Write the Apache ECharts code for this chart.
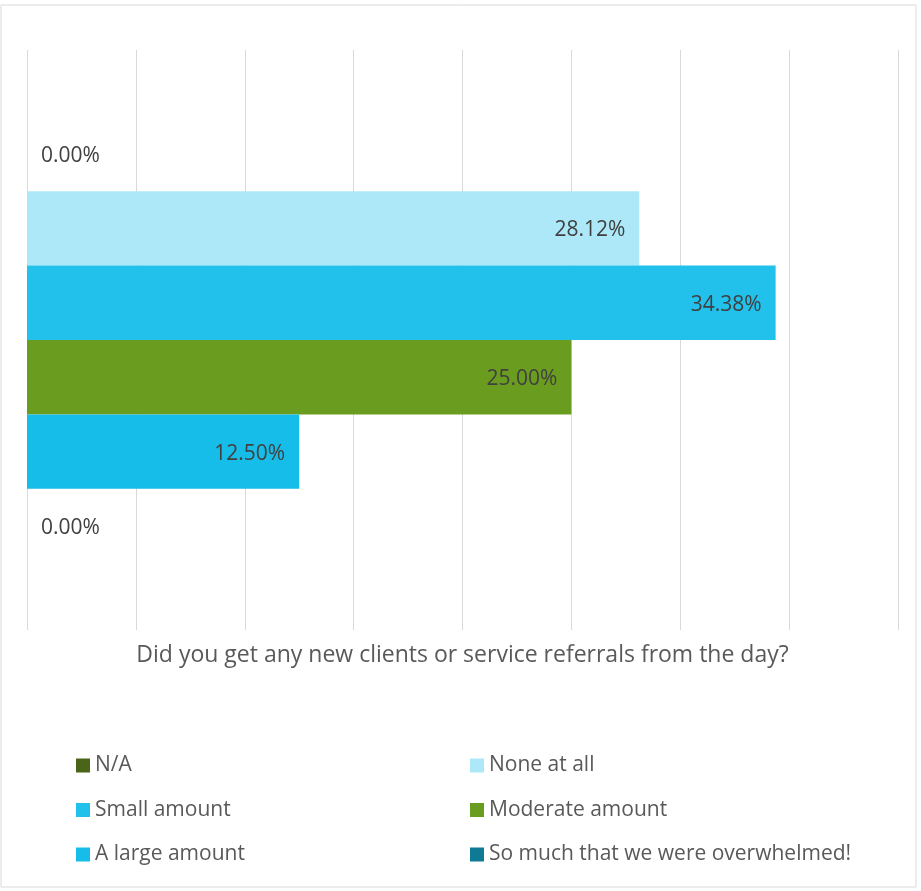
<!DOCTYPE html>
<html>
<head>
<meta charset="utf-8">
<script src="https://cdn.jsdelivr.net/npm/echarts@6/dist/echarts.min.js"></script>
<style>
  html, body { margin: 0; padding: 0; background: #fff; }
  #chart { width: 921px; height: 891px; }
</style>
</head>
<body>
<div id="chart"></div>
<script>
// 数据
const categories = ['Did you get any new clients or service referrals from the day?'];
const seriesNames = ['N/A', 'None at all', 'Small amount', 'Moderate amount', 'A large amount', 'So much that we were overwhelmed!'];
const seriesValues = [0, 28.12, 34.38, 25.00, 12.50, 0];
const seriesColors = ['#4A6418', '#ACE8F7', '#21C1EB', '#6A9D1F', '#16BDE8', '#0E7A96'];
const xTicks = [0, 5, 10, 15, 20, 25, 30, 35, 40];

const font = 'Open Sans';

const series = seriesNames.map((name, i) => {
  return {
    name: name,
    type: 'bar',
    data: [seriesValues[i]],
    barGap: '0%',
    barCategoryGap: '23%',
    itemStyle: { color: seriesColors[i] },
    label: {
      show: true,
      position: seriesValues[i] === 0 ? 'right' : 'insideRight',
      distance: 14,
      color: '#404040',
      fontFamily: font,
      fontSize: 21,
      offset: [0, 2],
      formatter: p => p.value.toFixed(2) + '%'
    }
  };
});

const legendText = { color: '#595959', fontFamily: font, fontSize: 21 };

const option = {
  animation: false,
  backgroundColor: '#fff',
  grid: { left: 27, right: 23, top: 50, bottom: 261 },
  xAxis: {
    type: 'value',
    min: xTicks[0],
    max: xTicks[xTicks.length - 1],
    interval: 5,
    axisLabel: { show: false },
    axisLine: { show: false },
    axisTick: { show: false },
    splitLine: { show: true, lineStyle: { color: '#D9D9D9', width: 1 } },
    name: categories[0],
    nameLocation: 'middle',
    nameGap: 14,
    nameTextStyle: { color: '#595959', fontFamily: font, fontSize: 23 }
  },
  yAxis: {
    type: 'category',
    data: categories,
    inverse: true,
    axisLabel: { show: false },
    axisLine: { show: false },
    axisTick: { show: false }
  },
  legend: [
    {
      orient: 'vertical',
      left: 71,
      top: 750,
      itemWidth: 14,
      itemHeight: 14,
      itemGap: 23.5,
      icon: 'rect',
      data: [seriesNames[0], seriesNames[2], seriesNames[4]],
      textStyle: legendText
    },
    {
      orient: 'vertical',
      left: 465,
      top: 750,
      itemWidth: 14,
      itemHeight: 14,
      itemGap: 23.5,
      icon: 'rect',
      data: [seriesNames[1], seriesNames[3], seriesNames[5]],
      textStyle: legendText
    }
  ],
  graphic: [{
    type: 'rect',
    shape: { x: 1, y: 5, width: 915, height: 882 },
    style: { fill: 'none', stroke: '#D9D9D9', lineWidth: 1 },
    silent: true
  }],
  series: series
};

const chart = echarts.init(document.getElementById('chart'));
chart.setOption(option);
</script>
</body>
</html>
